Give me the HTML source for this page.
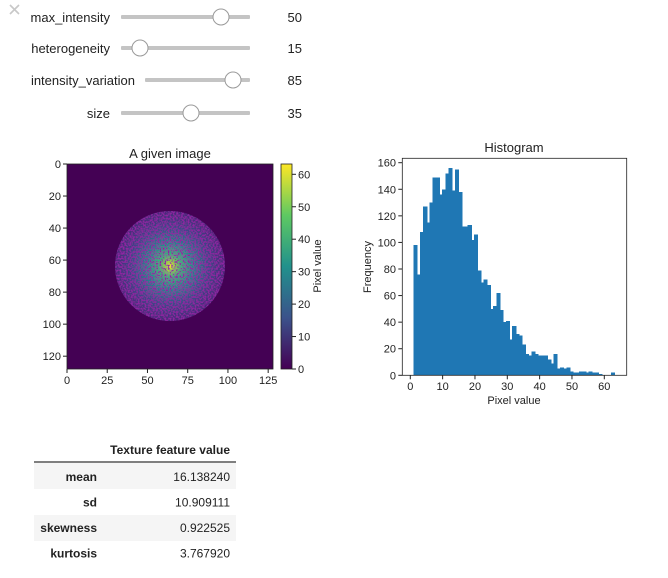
<!DOCTYPE html>
<html><head><meta charset="utf-8"><style>
body{margin:0;background:#fff;width:668px;height:578px;overflow:hidden;font-family:"Liberation Sans",Arial,sans-serif}
svg{display:block}
text{font-family:"Liberation Sans",Arial,sans-serif}
</style></head><body>
<svg id="root" width="668" height="578" viewBox="0 0 668 578">
<defs>
<radialGradient id="blob" cx="0.5" cy="0.5" r="0.5">
<stop offset="0" stop-color="#fde725"/>
<stop offset="0.06" stop-color="#b5de2b"/>
<stop offset="0.2" stop-color="#35b779"/>
<stop offset="0.42" stop-color="#26828e"/>
<stop offset="0.7" stop-color="#3e4989"/>
<stop offset="1" stop-color="#482878"/>
</radialGradient>
<linearGradient id="cbar" x1="0" y1="1" x2="0" y2="0">
<stop offset="0" stop-color="#440154"/><stop offset="0.25" stop-color="#3b528b"/>
<stop offset="0.5" stop-color="#21918c"/><stop offset="0.75" stop-color="#5ec962"/>
<stop offset="1" stop-color="#fde725"/></linearGradient>
<filter id="noise" x="0" y="0" width="100%" height="100%">
<feTurbulence type="fractalNoise" baseFrequency="0.6" numOctaves="1" seed="3" result="n"/>
<feColorMatrix in="n" type="matrix" values="0 0 0 0 0.27  0 0 0 0 0.02  0 0 0 0 0.36  0 0 0 4 -1.6" result="d"/>
<feComposite in="d" in2="SourceGraphic" operator="in" result="dd"/>
<feMerge><feMergeNode in="SourceGraphic"/><feMergeNode in="dd"/></feMerge>
</filter>
</defs>
<g><path d="M10 5 L19 14 M19 5 L10 14" stroke="#c8c8c8" stroke-width="1.6"/></g>
<g id="sliders" font-size="13" fill="#222"></g>

<text x="170" y="158" font-size="13" text-anchor="middle" fill="#222">A given image</text>
<g>
<rect x="67" y="164" width="206" height="205" fill="#440154"/>
<g filter="url(#noise)"><circle cx="170" cy="266" r="55" fill="url(#blob)"/></g>
<rect x="67" y="164" width="206" height="205" fill="none" stroke="#222" stroke-width="0.8"/>
</g>
<g id="imgaxes" font-size="11" fill="#222"></g>
<g>
<rect x="281" y="164" width="11" height="205" fill="url(#cbar)" stroke="#222" stroke-width="0.8"/>
</g>
<g id="cbaxes" font-size="11" fill="#222"></g>
<text transform="translate(321,266) rotate(-90)" font-size="11" text-anchor="middle" fill="#222">Pixel value</text>

<text x="514" y="152" font-size="13" text-anchor="middle" fill="#222">Histogram</text>
<g id="bars" shape-rendering="crispEdges"></g>
<rect x="402.3" y="158.3" width="224.4" height="217" fill="none" stroke="#222" stroke-width="0.8"/>
<g id="haxes" font-size="11" fill="#222"></g>
<text x="514" y="404" font-size="11" text-anchor="middle" fill="#222">Pixel value</text>
<text transform="translate(371,267) rotate(-90)" font-size="11" text-anchor="middle" fill="#222">Frequency</text>

<g font-size="12" fill="#222">
<text x="230" y="454" font-weight="bold" text-anchor="end">Texture feature value</text>
<line x1="34" y1="462" x2="236" y2="462" stroke="#333" stroke-width="1.2"/>
<rect x="34" y="463" width="202" height="26" fill="#f5f5f5"/>
<rect x="34" y="515" width="202" height="26" fill="#f5f5f5"/>
<g id="rows"></g>
</g>
</svg>
<script>
const NS="http://www.w3.org/2000/svg";
function mk(tag,attrs,parent,txt){const e=document.createElementNS(NS,tag);for(const k in attrs)e.setAttribute(k,attrs[k]);if(txt!==undefined)e.textContent=txt;parent.appendChild(e);return e;}

// sliders
const sliderLabels=["max_intensity","heterogeneity","intensity_variation","size"];
const sliderValues=[50,15,85,35];
const sg=document.getElementById('sliders');
const sy=[17,48,80,113], tx0=[121,121,145,121], lx=[110,110,135,110], thumbX=[221,140,233,191];
sliderLabels.forEach((l,i)=>{
  const t=mk('text',{x:lx[i],y:sy[i]+5,'text-anchor':'end'},sg,l);
  
  const g=mk('g',{},sg);
  
  
  mk('rect',{x:tx0[i],y:sy[i]-2,width:250-tx0[i],height:4,fill:'#c4c4c4',rx:1},g);
  mk('circle',{cx:thumbX[i],cy:sy[i],r:8,fill:'#fff',stroke:'#9a9a9a','stroke-width':1},g);
  const v=mk('text',{x:302,y:sy[i]+5,'text-anchor':'end'},sg,String(sliderValues[i]));
  
});

// image axes
const ia=document.getElementById('imgaxes');
const imgXTicks=[0,25,50,75,100,125], imgYTicks=[0,20,40,60,80,100,120];
const ix=v=>67+v*206/128, iy=v=>164+v*205/128;
imgXTicks.forEach(v=>{mk('line',{x1:ix(v),y1:369,x2:ix(v),y2:373,stroke:'#222'},ia);
  const t=mk('text',{x:ix(v),y:384,'text-anchor':'middle'},ia,v);});
imgYTicks.forEach(v=>{mk('line',{x1:63,y1:iy(v),x2:67,y2:iy(v),stroke:'#222'},ia);
  const t=mk('text',{x:61,y:iy(v)+4,'text-anchor':'end'},ia,v);});
const cb=document.getElementById('cbaxes');
const cbTicks=[0,10,20,30,40,50,60];
const cy=v=>369-v*(369-174.3)/60;
cbTicks.forEach(v=>{mk('line',{x1:292,y1:cy(v),x2:296,y2:cy(v),stroke:'#222'},cb);
  const t=mk('text',{x:298,y:cy(v)+4},cb,v);});

// histogram
const binStart=1, binWidth=62/63;
const counts=[98,76,108,127,115,130,149,149,136,140,152,156,139,155,138,112,112,113,102,106,79,70,72,68,50,52,62,49,40,41,27,37,31,30,23,16,15,18,16,15,15,15,12,9,16,5,6,5,6,3,2,2,3,3,2,3,2,2,1,0,0,0,2];
const xTicks=[0,10,20,30,40,50,60], yTicks=[0,20,40,60,80,100,120,140,160];
const hx=v=>410.3+v*(604.3-410.3)/60, hy=v=>375.3-v*(375.3-162.7)/160;
const bg=document.getElementById('bars');
counts.forEach((c,i)=>{
  if(c<=0)return;
  const x0=hx(binStart+i*binWidth), x1=hx(binStart+(i+1)*binWidth);
  const r=mk('rect',{x:x0,y:hy(c),width:x1-x0+1,height:hy(0)-hy(c),fill:'#1f77b4'},bg);
  
  
});
const ha=document.getElementById('haxes');
xTicks.forEach(v=>{mk('line',{x1:hx(v),y1:375.3,x2:hx(v),y2:379.3,stroke:'#222'},ha);
  const t=mk('text',{x:hx(v),y:390,'text-anchor':'middle'},ha,v);});
yTicks.forEach(v=>{mk('line',{x1:398.3,y1:hy(v),x2:402.3,y2:hy(v),stroke:'#222'},ha);
  const t=mk('text',{x:396,y:hy(v)+4,'text-anchor':'end'},ha,v);});

// table
const featNames=["mean","sd","skewness","kurtosis"];
const featVals=["16.138240","10.909111","0.922525","3.767920"];
const rg=document.getElementById('rows');
featNames.forEach((n,i)=>{
  const y=481+i*25.5;
  const a=mk('text',{x:97,y:y,'text-anchor':'end','font-weight':'bold'},rg,n);
  
  const b=mk('text',{x:230,y:y,'text-anchor':'end'},rg,featVals[i]);
  
});
</script>
</body></html>
